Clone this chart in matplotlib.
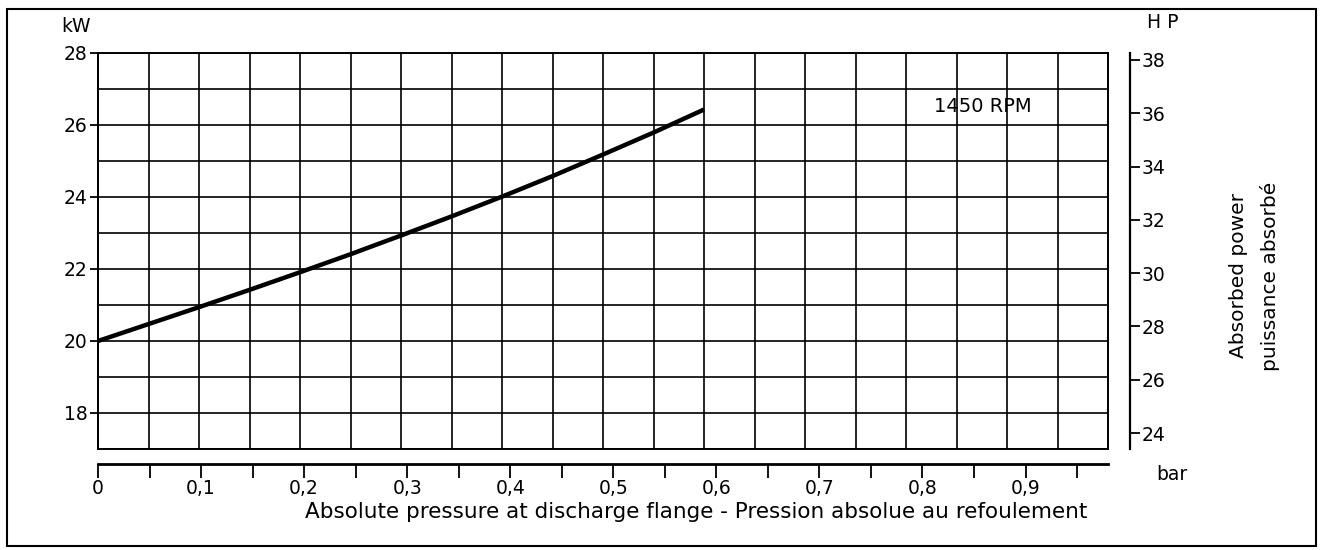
import matplotlib.pyplot as plt
from matplotlib.patches import Rectangle
import numpy as np

# absorbed power curve
pressure_bar = [0, 0.049, 0.098, 0.147, 0.196, 0.245, 0.294, 0.343, 0.392, 0.441, 0.49, 0.539, 0.588]
power_kw = [20.0, 20.47, 20.94, 21.42, 21.91, 22.41, 22.93, 23.46, 24.01, 24.58, 25.18, 25.79, 26.43]

x_ticks = [0, 0.1, 0.2, 0.3, 0.4, 0.5, 0.6, 0.7, 0.8, 0.9]
x_tick_labels = ["0", "0,1", "0,2", "0,3", "0,4", "0,5", "0,6", "0,7", "0,8", "0,9"]
kw_ticks = [18, 20, 22, 24, 26, 28]
hp_ticks = [24, 26, 28, 30, 32, 34, 36, 38]

plt.rcParams['font.family'] = 'DejaVu Sans'
fig = plt.figure(figsize=(13.22, 5.5), dpi=100)

W, H = 1322, 550
pos = [98/W, 1 - 449/H, 1010/W, 396/H]

# paper grid (20 x 11 cells)
bg = fig.add_axes(pos)
bg.set_xlim(0, 20)
bg.set_ylim(17, 28)
bg.set_xticks(range(21))
bg.set_yticks(range(17, 29))
bg.grid(True, color='black', lw=1.2)
bg.tick_params(length=0, labelbottom=False, labelleft=False)
for s in bg.spines.values():
    s.set_linewidth(1.4)

# data axes
ax = fig.add_axes(pos)
ax.patch.set_alpha(0)
ax.set_xlim(0, 0.98)
ax.set_ylim(17, 28)
ax.plot(pressure_bar, power_kw, color='black', lw=3.2, solid_capstyle='butt')

ax.spines['top'].set_visible(False)
ax.spines['right'].set_visible(False)
ax.spines['left'].set_linewidth(1.4)
ax.spines['bottom'].set_position(('outward', 10.8))
ax.spines['bottom'].set_linewidth(2.0)
ax.spines['bottom'].set_bounds(0, 0.98)

ax.set_xticks(x_ticks)
ax.set_xticklabels(x_tick_labels)
ax.set_xticks(np.arange(0.05, 1.0, 0.1), minor=True)
ax.tick_params(axis='x', which='both', direction='out', length=10, width=1.3, pad=1, labelsize=13.5)
ax.set_yticks(kw_ticks)
ax.tick_params(axis='y', direction='out', length=6, width=1.3, pad=1.5, labelsize=13.5)

# HP scale on the right
hp = ax.twinx()
hp.set_ylim(23.4, 38.26)
hp.set_yticks(hp_ticks)
for k in ['top', 'left', 'bottom']:
    hp.spines[k].set_visible(False)
hp.spines['right'].set_position(('outward', 16))
hp.spines['right'].set_linewidth(1.6)
hp.tick_params(axis='y', direction='out', length=7, width=1.3, pad=1, labelsize=13.5)

ax.text(0.859, 26.5, "1450 RPM", ha='center', va='center', fontsize=14)

fig.text(76/W, 1 - 26/H, "kW", ha='center', va='center', fontsize=13.5)
fig.text(1163/W, 1 - 22/H, "H P", ha='center', va='center', fontsize=13.5)
fig.text(1172/W, 1 - 475/H, "bar", ha='center', va='center', fontsize=13.5)
fig.text(696/W, 1 - 512/H, "Absolute pressure at discharge flange - Pression absolue au refoulement",
         ha='center', va='center', fontsize=15.5)
fig.text(1254/W, 1 - 276/H, "Absorbed power\npuissance absorbé", rotation=90,
         ha='center', va='center', multialignment='center', fontsize=14.5, linespacing=1.75)

fig.patches.append(Rectangle((7/W, 1 - 546/H), 1309/W, 537/H, transform=fig.transFigure,
                             fill=False, edgecolor='black', lw=1.5))

fig.savefig("out.png", dpi=100)
